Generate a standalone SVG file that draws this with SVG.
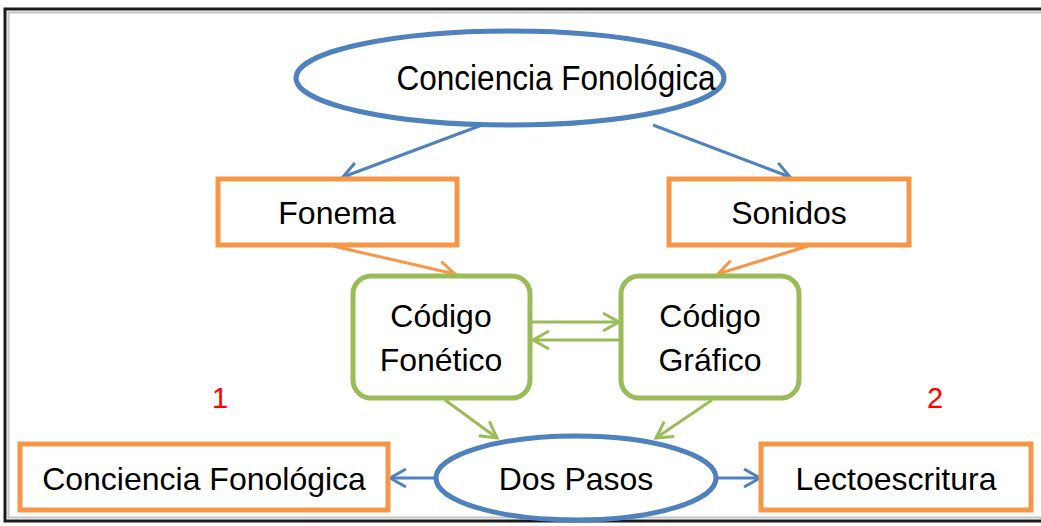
<svg xmlns="http://www.w3.org/2000/svg" width="1041" height="526" viewBox="0 0 1041 526">
<defs>
<style>
.t{font-family:"Liberation Sans",Arial,sans-serif;font-size:32px;fill:#000;text-anchor:middle}
.num{font-family:"Liberation Sans",Arial,sans-serif;font-size:29px;fill:#ff0000;text-anchor:middle}
.ell{fill:#fff;stroke:#4f81bd;stroke-width:5}
.obox{fill:#fff;stroke:#f79646;stroke-width:5}
.gbox{fill:#fff;stroke:#9bbb59;stroke-width:5}
.cb{stroke:#4f81bd;stroke-width:3;fill:none}
.co{stroke:#f79646;stroke-width:3;fill:none}
.cg{stroke:#9bbb59;stroke-width:3;fill:none}
</style>
<marker id="ab" viewBox="0 0 24 24" refX="21" refY="12" markerWidth="24" markerHeight="24" markerUnits="userSpaceOnUse" orient="auto"><path d="M5,3 L21,12 L5,21" fill="none" stroke="#4f81bd" stroke-width="3"/></marker>
<marker id="ao" viewBox="0 0 24 24" refX="21" refY="12" markerWidth="24" markerHeight="24" markerUnits="userSpaceOnUse" orient="auto"><path d="M5,3 L21,12 L5,21" fill="none" stroke="#f79646" stroke-width="3"/></marker>
<marker id="ag" viewBox="0 0 24 24" refX="21" refY="12" markerWidth="24" markerHeight="24" markerUnits="userSpaceOnUse" orient="auto"><path d="M5,3 L21,12 L5,21" fill="none" stroke="#9bbb59" stroke-width="3"/></marker>
</defs>
<rect width="1041" height="526" fill="#fff"/>
<g id="frame">
<rect x="5" y="9" width="1050" height="512" fill="none" stroke="#1a1a1a" stroke-width="3"/>
<rect x="8.5" y="12.5" width="1044" height="505" fill="none" stroke="#c4c4c4" stroke-width="2"/>
</g>
<g id="connectors">
<line class="cb" x1="482" y1="125" x2="343" y2="177" marker-end="url(#ab)"/>
<line class="cb" x1="653" y1="125" x2="790" y2="177" marker-end="url(#ab)"/>
<line class="co" x1="333" y1="246" x2="455" y2="274" marker-end="url(#ao)"/>
<line class="co" x1="808" y1="246" x2="718" y2="274" marker-end="url(#ao)"/>
<line class="cg" x1="531" y1="322" x2="619" y2="322" marker-end="url(#ag)"/>
<line class="cg" x1="619" y1="340" x2="533" y2="340" marker-end="url(#ag)"/>
<line class="cg" x1="445" y1="400" x2="497" y2="438" marker-end="url(#ag)"/>
<line class="cg" x1="712" y1="400" x2="656" y2="438" marker-end="url(#ag)"/>
<line class="cb" x1="436" y1="478" x2="390" y2="478" marker-end="url(#ab)"/>
<line class="cb" x1="716" y1="478" x2="760" y2="478" marker-end="url(#ab)"/>
</g>
<g id="n-conciencia-top">
<ellipse class="ell" cx="510" cy="78" rx="214" ry="47"/>
<text class="t" x="556" y="90" textLength="319" lengthAdjust="spacingAndGlyphs" style="font-size:35px">Conciencia Fonológica</text>
</g>
<g id="n-fonema">
<rect class="obox" x="218" y="179" width="239" height="66"/>
<text class="t" x="337" y="224">Fonema</text>
</g>
<g id="n-sonidos">
<rect class="obox" x="669" y="179" width="240" height="66"/>
<text class="t" x="789" y="224">Sonidos</text>
</g>
<g id="n-codigo-fonetico">
<rect class="gbox" x="353" y="276" width="177" height="122" rx="18"/>
<text class="t" x="441" y="327">Código</text>
<text class="t" x="441" y="371">Fonético</text>
</g>
<g id="n-codigo-grafico">
<rect class="gbox" x="621" y="276" width="178" height="122" rx="18"/>
<text class="t" x="710" y="327">Código</text>
<text class="t" x="710" y="371">Gráfico</text>
</g>
<g id="n-dos-pasos">
<ellipse class="ell" cx="576" cy="478" rx="140" ry="42"/>
<text class="t" x="576" y="490">Dos Pasos</text>
</g>
<g id="n-conciencia-bottom">
<rect class="obox" x="20" y="444" width="368" height="66"/>
<text class="t" x="204" y="490">Conciencia Fonológica</text>
</g>
<g id="n-lectoescritura">
<rect class="obox" x="761" y="444" width="270" height="66"/>
<text class="t" x="896" y="490">Lectoescritura</text>
</g>
<text class="num" x="220" y="408">1</text>
<text class="num" x="935" y="408">2</text>
</svg>
